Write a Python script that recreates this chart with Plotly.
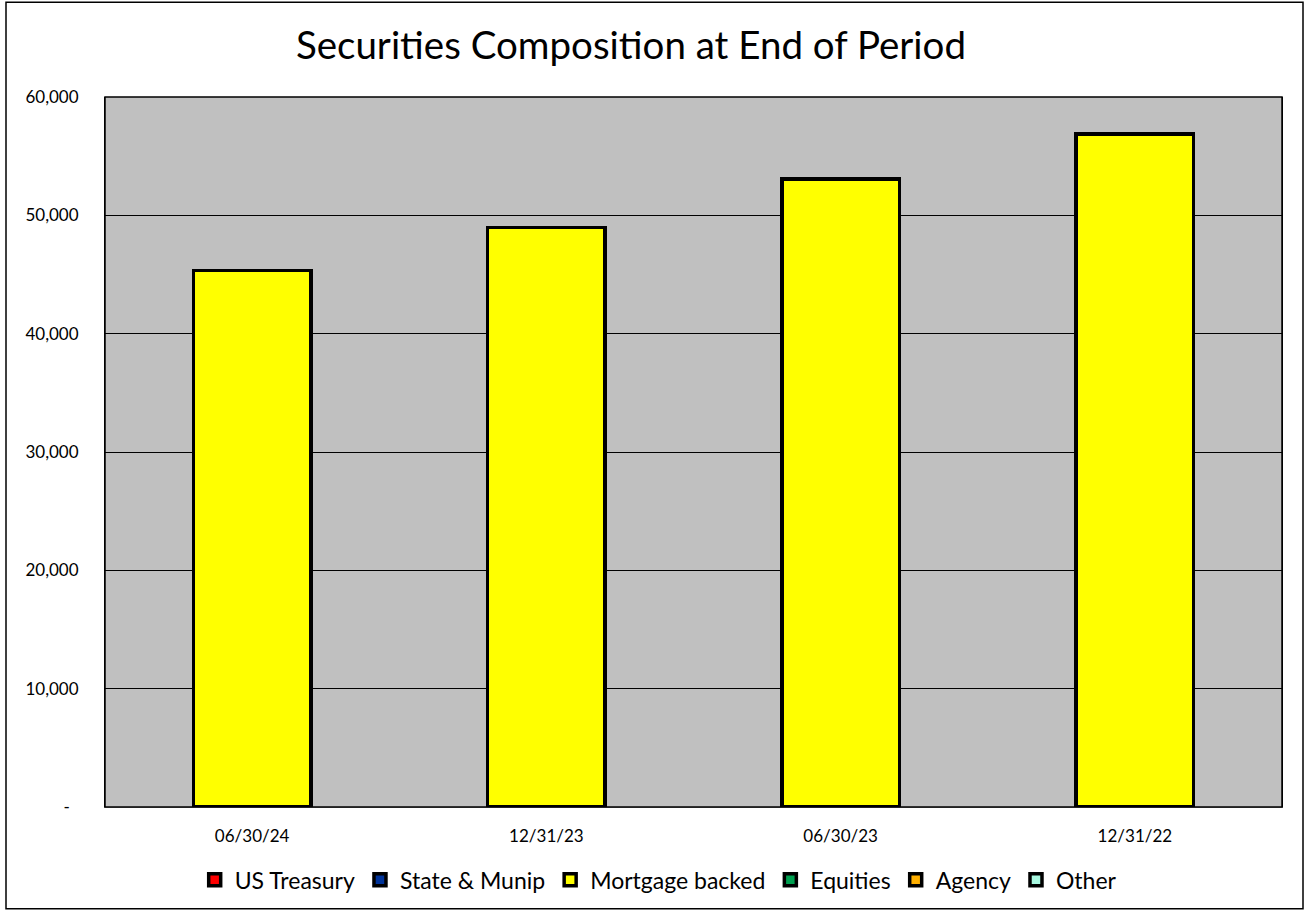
import plotly.graph_objects as go

periods = ["06/30/24", "12/31/23", "06/30/23", "12/31/22"]
us_treasury = [0, 0, 0, 0]
state_munip = [0, 0, 0, 0]
mortgage_backed = [45330, 48990, 53060, 56880]
equities = [0, 0, 0, 0]
agency = [0, 0, 0, 0]
other = [0, 0, 0, 0]

series = [
    ("US Treasury", us_treasury, "#FF0000"),
    ("State & Munip", state_munip, "#003399"),
    ("Mortgage backed", mortgage_backed, "#FFFF00"),
    ("Equities", equities, "#00A050"),
    ("Agency", agency, "#FFB000"),
    ("Other", other, "#A8F8E0"),
]

y_tickvals = [0, 10000, 20000, 30000, 40000, 50000, 60000]
y_ticktext = ["-  ", "10,000", "20,000", "30,000", "40,000", "50,000", "60,000"]

FONT = "Lato"

fig = go.Figure()
for name, vals, color in series:
    fig.add_trace(go.Bar(
        x=periods, y=vals, name=name,
        marker=dict(color=color, line=dict(color="black", width=3.5)),
    ))

fig.update_layout(
    width=1305, height=912,
    margin=dict(l=105, r=23, t=97, b=104),
    paper_bgcolor="white",
    plot_bgcolor="#C0C0C0",
    barmode="stack",
    bargap=0.6,
    font=dict(family=FONT, color="black", size=17),
    title=dict(text="Securities Composition at End of Period",
               x=0.4835, xanchor="center", xref="container",
               y=0.95, yanchor="middle", yref="container",
               font=dict(size=38.5, family=FONT, color="black")),
    showlegend=True,
    legend=dict(orientation="h", x=0.47, xanchor="center", y=-0.101,
                yanchor="middle", font=dict(size=23, family=FONT),
                traceorder="normal", itemwidth=30, bgcolor="rgba(0,0,0,0)"),
    xaxis=dict(showgrid=False, showline=True, linecolor="#888888", linewidth=1,
               mirror=False, ticks="", ticklabelstandoff=14,
               tickfont=dict(size=17, family=FONT)),
    yaxis=dict(range=[0, 60000], tickvals=y_tickvals, ticktext=y_ticktext,
               showgrid=True, gridcolor="black", gridwidth=1,
               showline=True, linecolor="black", linewidth=1, mirror=True,
               zeroline=False, ticks="", ticklabelstandoff=22,
               tickfont=dict(size=17, family=FONT)),
    shapes=[
        dict(type="rect", xref="paper", yref="paper",
             x0=0, x1=1, y0=0, y1=1, line=dict(color="black", width=1.5),
             fillcolor="rgba(0,0,0,0)", layer="above"),
        dict(type="rect", xref="paper", yref="paper",
             x0=(6 - 105) / 1177, x1=(1303 - 105) / 1177,
             y0=(808 - 910) / 711, y1=(808 - 2) / 711,
             line=dict(color="black", width=1.5), fillcolor="rgba(0,0,0,0)"),
    ],
)

fig.write_html("out.html", config={"displayModeBar": False},
               post_script="document.body.style.margin='0';document.body.style.overflow='hidden';")
